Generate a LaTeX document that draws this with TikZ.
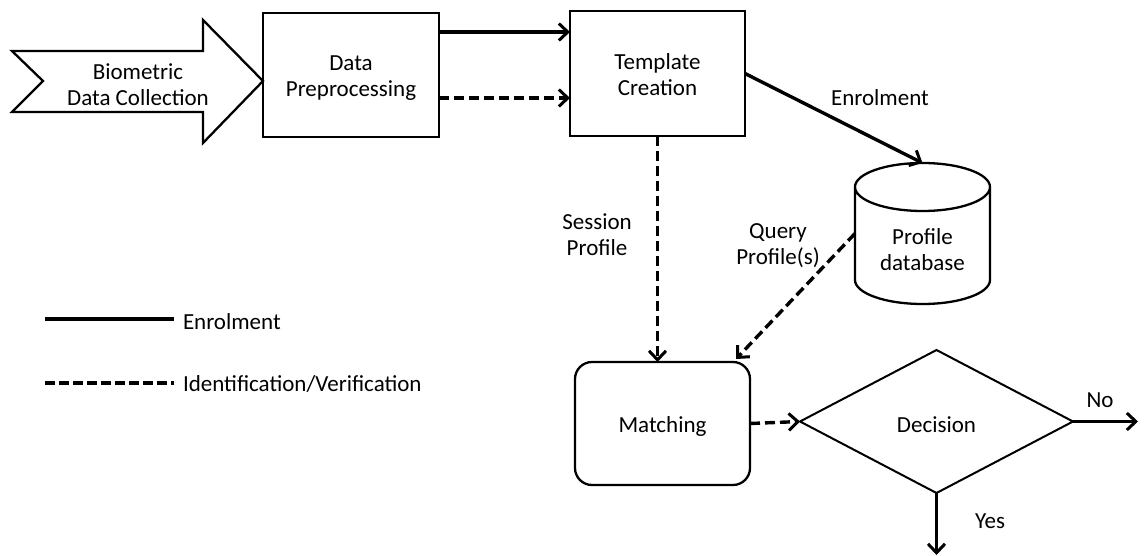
\documentclass[tikz,border=0pt]{standalone}
\usepackage{fontspec}
\setmainfont{Carlito}
\usetikzlibrary{arrows.meta,shapes.geometric,calc}

\begin{document}
\begin{tikzpicture}[x=1pt,y=-1pt,
  font=\fontsize{23}{26}\selectfont,
  every node/.style={align=center,inner sep=0pt,outer sep=0pt},
  procbox/.style={draw,line width=2.3pt,minimum width=#1,minimum height=124},
  roundbox/.style={draw,line width=2.3pt,rounded corners=17pt,minimum width=175,minimum height=123},
  decbox/.style={draw,diamond,line width=2pt,minimum width=273,minimum height=143},
  tip/.style={-{Straight Barb[length=9pt,width=17pt,line width=3pt]}},
  enrol/.style={tip,line width=3.4pt},
  ident/.style={tip,line width=3.4pt,dash pattern=on 10pt off 5pt}
]
\useasboundingbox (0,0) rectangle (1144,556);

% input arrow
\draw[line width=2.3pt,line join=miter]
  (12,51) -- (203,51) -- (203,20) -- (263,81) -- (203,143) -- (203,112) -- (12,112) -- (43,81) -- cycle;
\node (bio) at (138,85) {Biometric\\Data Collection};

% processing boxes
\node[procbox=176] (pre) at (351,75) {};
\node (pretext) at ([yshift=-3pt]pre.center) {Data\\Preprocessing};
\node[procbox=175,minimum height=125] (tmpl) at (657.5,73.5) {};
\node (tmpltext) at ([yshift=-1.5pt]tmpl.center) {Template\\Creation};

% profile database (cylinder)
\draw[line width=2.3pt]
  (855,187) arc[start angle=180,end angle=360,x radius=67.5,y radius=24]
  arc[start angle=0,end angle=180,x radius=67.5,y radius=24]
  -- (855,280) arc[start angle=180,end angle=0,x radius=67.5,y radius=24] -- (990,187);
\node[minimum width=135,minimum height=141] (db) at (922.5,233.5) {};
\node (dbtext) at (922.5,250) {Profile\\database};

% matching and decision
\node[roundbox] (match) at (662.5,423.5) {};
\node (matchtext) at ([yshift=-3pt]match.center) {Matching};
\node[decbox] (dec) at (936.5,421.5) {};
\node (dectext) at ([yshift=-3pt]dec.center) {Decision};
\coordinate (noend) at (1138,421.5);
\coordinate (yesend) at (936.5,555);

% connectors
\draw[enrol] (pre.east |- 0,32) -- (tmpl.west |- 0,32);
\draw[ident] (pre.east |- 0,98) -- (tmpl.west |- 0,98);
\draw[enrol] (tmpl.east) -- (db.north);
\draw[ident] (tmpl.south) -- (tmpl.south |- match.north);
\draw[ident] (db.west) -- ([xshift=-14pt,yshift=3pt]match.north east);
\draw[ident] (match.east) -- (dec.west);
\draw[enrol] (dec.east) -- (noend);
\draw[enrol] (dec.south) -- (yesend);

% connector labels
\node (lenrol) at (880,98) {Enrolment};
\node (lsession) at (597,235) {Session\\Profile};
\node (lquery) at (778,246) {Query\\Profile(s)};
\node (lno) at (1100,400) {No};
\node (lyes) at (990,521) {Yes};

% legend
\coordinate (ka) at (45,319);
\coordinate (kb) at (174,319);
\coordinate (kc) at (45,383);
\coordinate (kd) at (174,383);
\draw[line width=3.4pt] (ka) -- (kb);
\draw[line width=3.4pt,dash pattern=on 10pt off 4pt] (kc) -- (kd);
\node[anchor=west] (kenrol) at (183,322) {Enrolment};
\node[anchor=west] (kident) at (183,384) {Identification/Verification};
\end{tikzpicture}
\end{document}
